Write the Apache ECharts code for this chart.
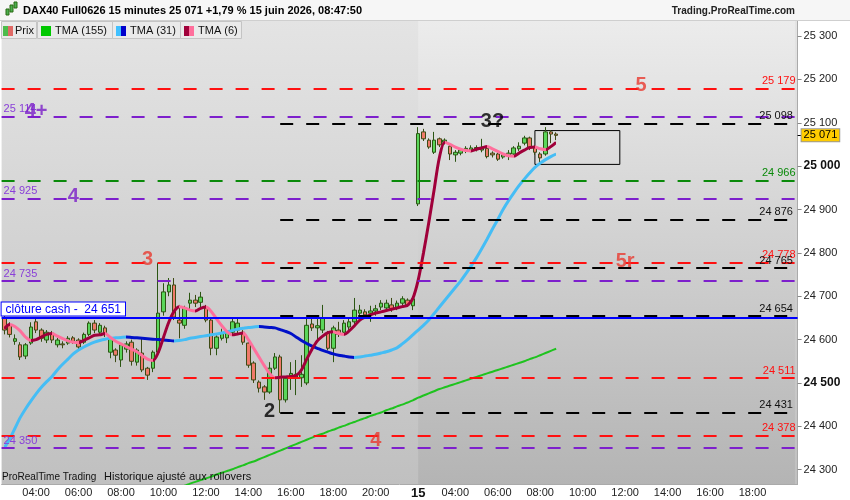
<!DOCTYPE html>
<html><head><meta charset="utf-8">
<script src="https://cdn.jsdelivr.net/npm/echarts@6/dist/echarts.min.js"></script>
<style>html,body{margin:0;padding:0;background:#fff}#c{width:850px;height:500px}</style>
</head><body><div id="c"></div><script>
// ---- sessions (15-minute bars) ----
const sessions = [
  {day: '14', start: '02:30', end: '21:45'},
  {day: '15', start: '02:15', end: '20:00'}
];
const lastLabelTime = '18:00';
// ---- candles: [open, close, low, high] ----
const candles = [
[24650,24622,24612,24664],[24633,24612,24605,24640],[24596,24602,24588,24612],[24588,24560,24553,24594],
[24562,24588,24555,24592],[24592,24629,24588,24640],[24641,24622,24615,24650],[24622,24603,24595,24626],
[24599,24617,24592,24622],[24615,24599,24592,24620],[24588,24599,24582,24604],[24590,24588,24580,24596],
[24592,24603,24588,24608],[24604,24596,24590,24608],[24599,24583,24578,24603],[24594,24612,24590,24616],
[24612,24638,24608,24642],[24638,24622,24615,24645],[24617,24633,24612,24638],[24627,24612,24606,24632],
[24571,24603,24557,24608],[24576,24564,24548,24580],[24553,24588,24537,24592],[24578,24590,24570,24596],
[24594,24550,24540,24600],[24548,24576,24540,24580],[24569,24530,24525,24603],[24534,24518,24507,24537],
[24534,24571,24525,24575],[24571,24661,24565,24777],[24664,24710,24655,24730],[24710,24726,24700,24742],
[24726,24652,24645,24742],[24645,24638,24603,24680],[24633,24673,24625,24678],[24684,24691,24668,24708],
[24691,24684,24675,24703],[24686,24698,24675,24710],[24673,24645,24640,24680],[24645,24580,24564,24648],
[24580,24606,24564,24610],[24603,24615,24598,24625],[24604,24617,24592,24622],[24617,24641,24612,24650],
[24622,24638,24615,24652],[24617,24594,24588,24622],[24592,24541,24535,24596],[24546,24507,24500,24550],
[24502,24488,24478,24506],[24491,24479,24461,24495],[24479,24534,24475,24548],[24534,24560,24530,24569],
[24560,24461,24431,24565],[24461,24511,24455,24515],[24511,24522,24484,24548],[24513,24520,24472,24553],
[24512,24520,24491,24564],[24500,24633,24495,24652],[24636,24627,24620,24650],[24627,24632,24599,24650],
[24622,24650,24615,24680],[24615,24580,24575,24620],[24580,24627,24548,24632],[24622,24612,24606,24641],
[24617,24638,24612,24645],[24629,24641,24622,24652],[24641,24668,24636,24696],[24661,24668,24641,24680],
[24664,24657,24648,24670],[24661,24666,24641,24678],[24666,24671,24655,24680],[24675,24684,24668,24691],
[24673,24684,24664,24692],[24680,24671,24664,24696],[24673,24684,24668,24690],[24684,24694,24678,24700],
[24691,24680,24675,24695],[24678,24694,24668,24700],
[24913,25075,24908,25090],[25079,25063,25058,25086],[25060,25044,25040,25064],[25032,25060,25028,25079],
[25063,25049,25044,25066],[25055,25060,25050,25064],[25046,25028,25014,25049],[25026,25032,25010,25037],
[25030,25037,25025,25041],[25035,25041,25030,25046],[25037,25042,25032,25048],[25038,25043,25034,25048],
[25037,25044,25032,25063],[25041,25022,25018,25044],[25030,25026,25020,25034],[25028,25016,25012,25031],
[25021,25026,25017,25030],[25024,25030,25014,25037],[25028,25042,25024,25046],[25040,25046,25035,25055],
[25053,25065,25048,25070],[25065,25042,25037,25068],[25044,25032,25026,25048],[25028,25019,25007,25032],
[25028,25079,25024,25090],[25079,25074,25053,25083],[25074,25071,25060,25078]
];
// ---- moving averages ----
const tma155 = [
null,null,null,null,null,null,null,null,null,null,null,null,null,null,null,null,null,null,null,null,
null,null,null,null,null,null,null,null,null,null,null,null,null,
24259,24263,24268,24272,24276,24280,24284,24289,24293,24297,24301,24306,24310,24315,24319,24324,24329,
24334,24339,24344,24349,24354,24359,24364,24369,24374,24379,24383,24388,24392,24397,24401,24406,24410,
24415,24419,24424,24428,24432,24437,24441,24446,24450,24455,24460,24466,24471,24476,24481,24486,24490,
24494,24498,24502,24506,24510,24514,24518,24522,24526,24530,24534,24538,24542,24546,24550,24555,24559,
24564,24569,24574,24579
];
const tma31 = [
24350,24370,24395,24420,24440,24458,24475,24490,24503,24515,
24530,24543,24555,24567,24576,24583,24589,24594,24598,24601,
24603,24604,24605,24606,24605,24604,24603,24602,24601,24600,
24599,24598,24597,24598,24600,24603,24605,24607,24609,24611,
24613,24615,24618,24621,24624,24626,24628,24629,24630,24629,
24628,24627,24623,24619,24614,24606,24598,24591,24585,24580,
24575,24571,24567,24564,24562,24560,24559,24560,24562,24564,
24566,24569,24572,24576,24581,24590,24600,24611,24622,24633,
24645,24660,24675,24690,24705,24720,24735,24752,24770,24789,
24810,24832,24855,24877,24900,24920,24938,24955,24970,24984,
24997,25007,25015,25022,25028
];
const tma6 = [
24625,24635,24630,24620,24606,24598,24600,24606,24612,24614,
24608,24602,24597,24594,24593,24598,24604,24610,24611,24614,
24605,24596,24590,24584,24578,24572,24563,24555,24552,24570,
24605,24640,24665,24676,24673,24668,24666,24672,24675,24665,
24648,24632,24618,24611,24613,24615,24600,24580,24560,24540,
24522,24512,24513,24514,24515,24517,24530,24555,24578,24597,
24608,24616,24618,24614,24612,24620,24632,24645,24652,24657,
24661,24664,24667,24670,24673,24676,24679,24695,24737,24800,
24870,24945,25020,25055,25050,25044,25039,25036,25035,25039,
25042,25045,25040,25034,25028,25024,25023,25030,25037,25043,
25044,25040,25038,25045,25055
];
// ---- horizontal levels ----
const redLevels = [25179, 24778, 24511, 24378];
const purpleLevels = [25114, 24925, 24735, 24350];
const greenLevels = [24966];
const blackLevels = [25098, 24876, 24765, 24654, 24431];
const blackStartTime = '14 15:30';
const cashClose = 24651;
// ---- y tick labels ----
const yTicks = [24300, 24400, 24500, 24600, 24700, 24800, 24900, 25000, 25100, 25200, 25300];
const yBoldTicks = [24500, 25000];
// ---- annotations ----
const annoTexts  = ['4+', '4', '3', '2', '4', '3?', '5', '5r'];
const annoTimes  = ['14 04:00', '14 05:45', '14 09:15', '14 15:00', '14 20:00', '15 05:45', '15 12:45', '15 12:00'];
const annoValues = [25127, 24931, 24784, 24435, 24368, 25102, 25187, 24779];
const annoKinds  = ['purple', 'purple', 'red', 'black', 'red', 'black', 'red', 'red'];
// ---- box ----
const boxTimes = ['15 07:45', '15 11:45'];
const boxValues = [25082, 25004];

// ================= build =================
const toMin = t => { const p = t.split(':').map(Number); return p[0] * 60 + p[1]; };
const hhmm = m => String(Math.floor(m / 60)).padStart(2, '0') + ':' + String(m % 60).padStart(2, '0');
const categories = [];
sessions.forEach(s => { for (let m = toMin(s.start); m <= toMin(s.end); m += 15) categories.push(s.day + ' ' + hhmm(m)); });
const firstDay15 = categories.find(c => c.startsWith(sessions[1].day + ' '));
const lastCat = categories[categories.length - 1];
const lastLabelIdx = categories.indexOf(sessions[1].day + ' ' + lastLabelTime);
const fmtNum = v => String(Math.round(v)).replace(/\B(?=(\d{3})+(?!\d))/g, ' ');

const RED = '#ff1010', PURPLE = '#7d1fcc', GREEN = '#0a8a0a', BLACK = '#000000', BLUE = '#0000ff';
const LIGHTBLUE = '#45bdf5', DARKBLUE = '#0010c8', DARKRED = '#a0003a', PINK = '#ff6f9c';
const kindColor = {purple: '#7a1ec8', red: '#e8392f', black: '#000'};
const dash = [13, 13];
const FONT = '"Liberation Sans", Arial, sans-serif';

function trendPieces(data, up, down) {
  const out = []; let rs = null, rc = null;
  for (let i = 0; i + 1 < data.length; i++) {
    if (data[i] == null || data[i + 1] == null) continue;
    const c = data[i + 1] >= data[i] ? up : down;
    if (rc === null) { rs = i; rc = c; }
    else if (c !== rc) { out.push([rs, i, rc]); rs = i; rc = c; }
  }
  out.push([rs, data.length - 1, rc]);
  return out.map((p, k) => k === 0 ? {gte: p[0], lte: p[1], color: p[2]} : {gt: p[0], lte: p[1], color: p[2]});
}

const rightLabel = (v, color) => ({show: true, position: 'insideEndTop', formatter: fmtNum(v), color: color, fontSize: 11, distance: 2, fontFamily: FONT});
const leftLabel = (v, color) => ({show: true, position: 'insideStartTop', formatter: fmtNum(v), color: color, fontSize: 11, distance: 2, fontFamily: FONT});

const markLines = [];
redLevels.forEach(v => markLines.push({yAxis: v, lineStyle: {color: RED, type: dash, width: 2}, label: rightLabel(v, RED)}));
purpleLevels.forEach(v => markLines.push({yAxis: v, lineStyle: {color: PURPLE, type: dash, width: 2}, label: leftLabel(v, '#8a40d8')}));
greenLevels.forEach(v => markLines.push({yAxis: v, lineStyle: {color: GREEN, type: dash, width: 2}, label: rightLabel(v, GREEN)}));
blackLevels.forEach(v => markLines.push([
  {coord: [blackStartTime, v], lineStyle: {color: BLACK, type: dash, width: 2}, label: rightLabel(v, '#111')},
  {coord: [lastCat, v], lineStyle: {color: BLACK, type: dash, width: 2}, label: rightLabel(v, '#111')}
]));
markLines.push({yAxis: cashClose, lineStyle: {color: BLUE, type: 'solid', width: 2},
  label: {show: true, position: 'insideStartTop', formatter: 'clôture cash -  ' + fmtNum(cashClose), color: BLUE,
    fontSize: 12, fontFamily: FONT, backgroundColor: '#fff', borderColor: BLUE, borderWidth: 1, padding: [1, 4, 0, 4], distance: [0, 2]}});

const lastClose = candles[candles.length - 1][1];

const bgDay14 = {type: 'linear', x: 0, y: 0, x2: 0, y2: 1, colorStops: [{offset: 0, color: '#e4e4e4'}, {offset: 1, color: '#c0c0c0'}]};
const bgDay15 = {type: 'linear', x: 0, y: 0, x2: 0, y2: 1, colorStops: [{offset: 0, color: '#ececec'}, {offset: 1, color: '#b4b4b4'}]};

const chart = echarts.init(document.getElementById('c'));
chart.setOption({
  animation: false,
  backgroundColor: '#ffffff',
  textStyle: {fontFamily: FONT},
  grid: {left: 1.6, right: 52.4, top: 20, bottom: 16, show: true, backgroundColor: bgDay14, borderWidth: 0},
  xAxis: {
    type: 'category', data: categories, boundaryGap: true,
    axisLine: {show: true, lineStyle: {color: '#aaaaaa'}}, axisTick: {show: false}, splitLine: {show: false},
    axisLabel: {
      margin: 3, fontSize: 11, color: '#222',
      interval: (i, v) => i <= lastLabelIdx && (v === firstDay15 || (v.slice(-2) === '00' && parseInt(v.slice(3, 5), 10) % 2 === 0)),
      formatter: v => v === firstDay15 ? '{b|' + sessions[1].day + '}' : v.slice(3),
      rich: {b: {fontWeight: 'bold', fontSize: 13, color: '#111'}}
    }
  },
  yAxis: [{
    type: 'value', position: 'right', min: 24267, max: 25337, scale: true,
    axisLine: {show: true, lineStyle: {color: '#aaaaaa'}},
    axisTick: {show: true, inside: false, length: 4, lineStyle: {color: '#888'}, customValues: yTicks},
    splitLine: {show: false},
    axisLabel: {customValues: yTicks, margin: 6, fontSize: 11, color: '#222',
      formatter: v => yBoldTicks.includes(v) ? '{b|' + fmtNum(v) + '}' : fmtNum(v),
      rich: {b: {fontWeight: 'bold', fontSize: 12, color: '#111'}}}
  }, {
    // second axis on the same scale: carries only the last-price tag
    type: 'value', position: 'right', min: 24267, max: 25337, scale: true,
    axisLine: {show: false}, axisTick: {show: true, length: 4, lineStyle: {color: '#000'}, customValues: [lastClose]},
    splitLine: {show: false},
    axisLabel: {customValues: [lastClose], margin: 4, fontSize: 11, color: '#000', formatter: v => fmtNum(v),
      backgroundColor: '#ffcc00', borderColor: '#999', borderWidth: 1, padding: [1, 2, 0, 2]}
  }],
  visualMap: [
    {type: 'piecewise', show: false, dimension: 0, seriesIndex: 2, pieces: trendPieces(tma31, LIGHTBLUE, DARKBLUE)},
    {type: 'piecewise', show: false, dimension: 0, seriesIndex: 3, pieces: trendPieces(tma6, DARKRED, PINK)}
  ],
  series: [
    {
      type: 'candlestick', name: 'Prix', data: candles, barWidth: 4,
      itemStyle: {color: '#5ad65a', color0: '#f07a6a', borderColor: '#2b5512', borderColor0: '#3d4a14', borderWidth: 1},
      markArea: {silent: true, data: [
        [{xAxis: firstDay15, itemStyle: {color: bgDay15}}, {xAxis: lastCat}],
        [{xAxis: boxTimes[0], yAxis: boxValues[0], itemStyle: {color: 'rgba(0,0,0,0)', borderColor: '#000', borderWidth: 1}},
         {xAxis: boxTimes[1], yAxis: boxValues[1]}]
      ]},
      markLine: {silent: true, symbol: ['none', 'none'], data: markLines}
    },
    {type: 'line', name: 'TMA (155)', data: tma155, showSymbol: false, smooth: 0.3, lineStyle: {color: '#1ec31e', width: 2}, z: 3},
    {type: 'line', name: 'TMA (31)', data: tma31, showSymbol: false, smooth: 0.3, lineStyle: {width: 3}, z: 3},
    {type: 'line', name: 'TMA (6)', data: tma6, showSymbol: false, smooth: 0.3, lineStyle: {width: 3}, z: 4},
    {
      type: 'scatter', symbolSize: 1, itemStyle: {color: 'rgba(0,0,0,0)'}, z: 10, silent: true,
      data: annoTexts.map((t, i) => ({value: [annoTimes[i], annoValues[i]],
        label: {show: true, position: 'inside', formatter: t, color: kindColor[annoKinds[i]], fontSize: 20, fontWeight: 'bold', fontFamily: FONT}}))
    }
  ],
  graphic: [
    {type: 'rect', shape: {x: 0, y: 0, width: 850, height: 20}, style: {fill: '#f6f6f6'}, z: 50},
    {type: 'line', shape: {x1: 0, y1: 20.5, x2: 850, y2: 20.5}, style: {stroke: '#cfcfcf', lineWidth: 1}, z: 50},
    {type: 'rect', shape: {x: 6, y: 9, width: 3, height: 6}, style: {fill: '#4caf50', stroke: '#2b6a12'}, z: 51},
    {type: 'rect', shape: {x: 10, y: 5, width: 3, height: 7}, style: {fill: '#4caf50', stroke: '#2b6a12'}, z: 51},
    {type: 'rect', shape: {x: 14, y: 2, width: 3, height: 6}, style: {fill: '#4caf50', stroke: '#2b6a12'}, z: 51},
    {type: 'text', x: 23, y: 11, style: {text: 'DAX40 Full0626 15 minutes 25 071 +1,79 % 15 juin 2026, 08:47:50', font: 'bold 11px ' + FONT, fill: '#000', verticalAlign: 'middle'}, z: 51},
    {type: 'text', x: 795, y: 11, style: {text: 'Trading.ProRealTime.com', font: 'bold 10px ' + FONT, fill: '#222', align: 'right', verticalAlign: 'middle'}, z: 51},
    // legend tabs
    {type: 'rect', shape: {x: 1.5, y: 21.5, width: 35, height: 17}, style: {fill: '#eaeaea', stroke: '#c4c4c4'}, z: 50},
    {type: 'rect', shape: {x: 3, y: 26, width: 5, height: 10}, style: {fill: '#4cbc4c'}, z: 51},
    {type: 'rect', shape: {x: 8, y: 26, width: 5, height: 10}, style: {fill: '#e06a66'}, z: 51},
    {type: 'text', x: 15, y: 30.5, style: {text: 'Prix', font: '11px ' + FONT, fill: '#111', verticalAlign: 'middle'}, z: 51},
    {type: 'rect', shape: {x: 37.5, y: 21.5, width: 75, height: 17}, style: {fill: '#eaeaea', stroke: '#c4c4c4'}, z: 50},
    {type: 'rect', shape: {x: 41, y: 26, width: 10, height: 10}, style: {fill: '#00c800'}, z: 51},
    {type: 'text', x: 55, y: 30.5, style: {text: 'TMA (155)', font: '11px ' + FONT, fill: '#111', verticalAlign: 'middle'}, z: 51},
    {type: 'rect', shape: {x: 112.5, y: 21.5, width: 68, height: 17}, style: {fill: '#eaeaea', stroke: '#c4c4c4'}, z: 50},
    {type: 'rect', shape: {x: 116, y: 26, width: 5, height: 10}, style: {fill: '#40c0ff'}, z: 51},
    {type: 'rect', shape: {x: 121, y: 26, width: 5, height: 10}, style: {fill: '#0000cc'}, z: 51},
    {type: 'text', x: 130, y: 30.5, style: {text: 'TMA (31)', font: '11px ' + FONT, fill: '#111', verticalAlign: 'middle'}, z: 51},
    {type: 'rect', shape: {x: 180.5, y: 21.5, width: 61, height: 17}, style: {fill: '#eaeaea', stroke: '#c4c4c4'}, z: 50},
    {type: 'rect', shape: {x: 184, y: 26, width: 5, height: 10}, style: {fill: '#a0003a'}, z: 51},
    {type: 'rect', shape: {x: 189, y: 26, width: 5, height: 10}, style: {fill: '#ff6f9c'}, z: 51},
    {type: 'text', x: 198, y: 30.5, style: {text: 'TMA (6)', font: '11px ' + FONT, fill: '#111', verticalAlign: 'middle'}, z: 51},
    // footer
    {type: 'text', x: 2, y: 477, style: {text: 'ProRealTime Trading', font: '10px ' + FONT, fill: '#111', verticalAlign: 'middle'}, z: 51},
    {type: 'text', x: 104, y: 477, style: {text: 'Historique ajusté aux rollovers', font: '11px ' + FONT, fill: '#111', verticalAlign: 'middle'}, z: 51}
  ]
});
</script></body></html>
